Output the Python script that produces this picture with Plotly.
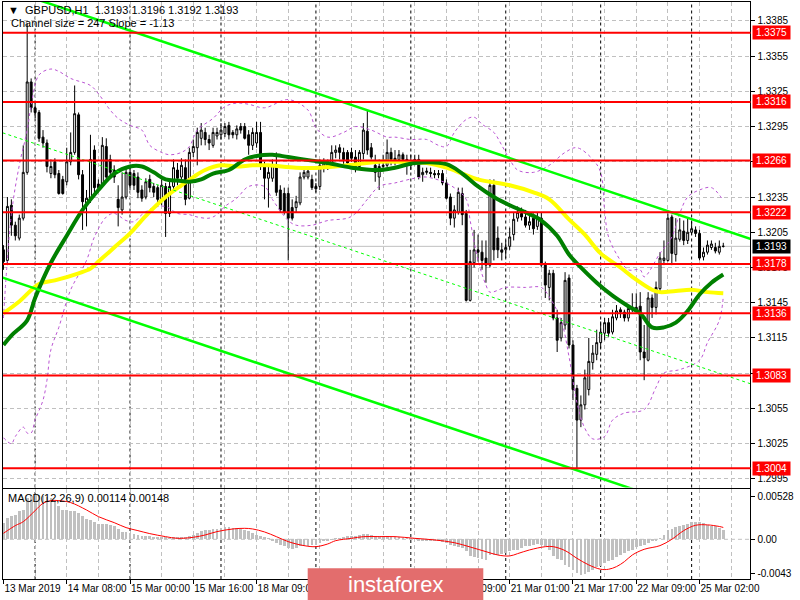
import plotly.graph_objects as go
from plotly.subplots import make_subplots

# GBPUSD H1, bar 0 = 13 Mar 2019 16:00
opens = [1.3190, 1.3181, 1.3228, 1.3211, 1.3200, 1.3217, 1.3256, 1.3333, 1.3311, 1.3307,
         1.3286, 1.3281, 1.3255, 1.3265, 1.3255, 1.3250, 1.3248, 1.3265, 1.3273, 1.3305,
         1.3254, 1.3230, 1.3233, 1.3275, 1.3246, 1.3245, 1.3278, 1.3267, 1.3258, 1.3233,
         1.3224, 1.3235, 1.3256, 1.3255, 1.3252, 1.3241, 1.3235, 1.3250, 1.3244, 1.3243,
         1.3233, 1.3244, 1.3221, 1.3244, 1.3258, 1.3252, 1.3260, 1.3234, 1.3273, 1.3277,
         1.3285, 1.3290, 1.3284, 1.3279, 1.3287, 1.3288, 1.3289, 1.3296, 1.3290, 1.3288,
         1.3295, 1.3295, 1.3288, 1.3279, 1.3281, 1.3290, 1.3261, 1.3251, 1.3251, 1.3261,
         1.3241, 1.3238, 1.3238, 1.3226, 1.3226, 1.3230, 1.3252, 1.3252, 1.3250, 1.3244,
         1.3244, 1.3261, 1.3264, 1.3264, 1.3273, 1.3277, 1.3273, 1.3273, 1.3273, 1.3269,
         1.3261, 1.3272, 1.3291, 1.3277, 1.3262, 1.3252, 1.3261, 1.3262, 1.3273, 1.3268,
         1.3267, 1.3271, 1.3267, 1.3262, 1.3267, 1.3267, 1.3254, 1.3256, 1.3256, 1.3255,
         1.3254, 1.3255, 1.3247, 1.3235, 1.3217, 1.3222, 1.3238, 1.3221, 1.3147, 1.3179,
         1.3190, 1.3188, 1.3183, 1.3177, 1.3245, 1.3200, 1.3190, 1.3190, 1.3193, 1.3203,
         1.3217, 1.3221, 1.3218, 1.3211, 1.3217, 1.3210, 1.3217, 1.3177, 1.3158, 1.3170,
         1.3132, 1.3115, 1.3126, 1.3166, 1.3109, 1.3072, 1.3045, 1.3058, 1.3071, 1.3094,
         1.3101, 1.3111, 1.3119, 1.3128, 1.3120, 1.3132, 1.3139, 1.3137, 1.3132, 1.3139,
         1.3141, 1.3142, 1.3103, 1.3096, 1.3149, 1.3141, 1.3157, 1.3181, 1.3181, 1.3218,
         1.3186, 1.3199, 1.3206, 1.3198, 1.3205, 1.3207, 1.3204, 1.3184, 1.3188, 1.3192,
         1.3192, 1.3188, 1.3193]
highs = [1.3194, 1.3235, 1.3233, 1.3214, 1.3220, 1.3279, 1.3383, 1.3336, 1.3315, 1.3309,
         1.3292, 1.3284, 1.3267, 1.3268, 1.3258, 1.3253, 1.3277, 1.3290, 1.3330, 1.3307,
         1.3258, 1.3241, 1.3288, 1.3279, 1.3250, 1.3286, 1.3285, 1.3271, 1.3262, 1.3245,
         1.3256, 1.3260, 1.3260, 1.3258, 1.3256, 1.3245, 1.3251, 1.3254, 1.3247, 1.3245,
         1.3250, 1.3247, 1.3250, 1.3267, 1.3264, 1.3268, 1.3267, 1.3277, 1.3284, 1.3294,
         1.3298, 1.3294, 1.3288, 1.3294, 1.3294, 1.3298, 1.3298, 1.3299, 1.3292, 1.3296,
         1.3298, 1.3298, 1.3292, 1.3294, 1.3299, 1.3299, 1.3265, 1.3262, 1.3267, 1.3273,
         1.3245, 1.3243, 1.3243, 1.3233, 1.3236, 1.3256, 1.3260, 1.3261, 1.3254, 1.3247,
         1.3267, 1.3268, 1.3267, 1.3279, 1.3279, 1.3280, 1.3277, 1.3275, 1.3277, 1.3275,
         1.3275, 1.3298, 1.3309, 1.3281, 1.3271, 1.3267, 1.3271, 1.3284, 1.3277, 1.3275,
         1.3275, 1.3273, 1.3271, 1.3271, 1.3271, 1.3271, 1.3260, 1.3260, 1.3260, 1.3258,
         1.3258, 1.3258, 1.3250, 1.3238, 1.3228, 1.3243, 1.3243, 1.3224, 1.3190, 1.3207,
         1.3203, 1.3198, 1.3198, 1.3250, 1.3250, 1.3210, 1.3196, 1.3198, 1.3209, 1.3222,
         1.3227, 1.3226, 1.3224, 1.3220, 1.3221, 1.3222, 1.3222, 1.3180, 1.3173, 1.3173,
         1.3139, 1.3132, 1.3171, 1.3169, 1.3113, 1.3075, 1.3066, 1.3088, 1.3115, 1.3109,
         1.3122, 1.3129, 1.3132, 1.3132, 1.3139, 1.3143, 1.3141, 1.3139, 1.3143, 1.3153,
         1.3153, 1.3154, 1.3126, 1.3154, 1.3152, 1.3163, 1.3188, 1.3198, 1.3221, 1.3220,
         1.3217, 1.3217, 1.3215, 1.3217, 1.3214, 1.3210, 1.3207, 1.3192, 1.3198, 1.3198,
         1.3196, 1.3198, 1.3196]
lows = [1.3173, 1.3177, 1.3202, 1.3198, 1.3198, 1.3215, 1.3254, 1.3307, 1.3302, 1.3282,
        1.3277, 1.3256, 1.3251, 1.3251, 1.3237, 1.3237, 1.3245, 1.3262, 1.3271, 1.3250,
        1.3207, 1.3210, 1.3230, 1.3237, 1.3239, 1.3243, 1.3250, 1.3251, 1.3247, 1.3210,
        1.3220, 1.3233, 1.3241, 1.3241, 1.3234, 1.3231, 1.3233, 1.3239, 1.3235, 1.3228,
        1.3228, 1.3201, 1.3218, 1.3241, 1.3245, 1.3250, 1.3228, 1.3233, 1.3269, 1.3262,
        1.3279, 1.3279, 1.3275, 1.3277, 1.3284, 1.3284, 1.3286, 1.3284, 1.3285, 1.3284,
        1.3289, 1.3284, 1.3271, 1.3275, 1.3277, 1.3258, 1.3233, 1.3226, 1.3248, 1.3236,
        1.3222, 1.3220, 1.3181, 1.3215, 1.3222, 1.3228, 1.3250, 1.3250, 1.3241, 1.3239,
        1.3241, 1.3256, 1.3258, 1.3261, 1.3268, 1.3267, 1.3262, 1.3261, 1.3265, 1.3256,
        1.3258, 1.3267, 1.3271, 1.3267, 1.3248, 1.3241, 1.3258, 1.3260, 1.3262, 1.3262,
        1.3264, 1.3264, 1.3254, 1.3258, 1.3262, 1.3250, 1.3248, 1.3254, 1.3252, 1.3251,
        1.3251, 1.3245, 1.3233, 1.3211, 1.3209, 1.3220, 1.3211, 1.3146, 1.3146, 1.3175,
        1.3180, 1.3173, 1.3162, 1.3175, 1.3181, 1.3183, 1.3181, 1.3183, 1.3190, 1.3198,
        1.3214, 1.3215, 1.3209, 1.3207, 1.3203, 1.3207, 1.3175, 1.3149, 1.3147, 1.3130,
        1.3103, 1.3112, 1.3122, 1.3106, 1.3062, 1.3004, 1.3039, 1.3054, 1.3066, 1.3088,
        1.3096, 1.3106, 1.3113, 1.3116, 1.3118, 1.3130, 1.3132, 1.3129, 1.3129, 1.3137,
        1.3137, 1.3096, 1.3079, 1.3095, 1.3132, 1.3135, 1.3154, 1.3177, 1.3180, 1.3177,
        1.3180, 1.3197, 1.3194, 1.3195, 1.3203, 1.3201, 1.3181, 1.3181, 1.3186, 1.3190,
        1.3187, 1.3186, 1.3192]
closes = [1.3180, 1.3227, 1.3211, 1.3202, 1.3217, 1.3256, 1.3333, 1.3311, 1.3307, 1.3285,
          1.3281, 1.3261, 1.3261, 1.3254, 1.3238, 1.3238, 1.3265, 1.3273, 1.3306, 1.3254,
          1.3231, 1.3234, 1.3267, 1.3243, 1.3243, 1.3279, 1.3252, 1.3256, 1.3252, 1.3226,
          1.3235, 1.3256, 1.3245, 1.3245, 1.3239, 1.3234, 1.3248, 1.3243, 1.3239, 1.3233,
          1.3245, 1.3221, 1.3244, 1.3260, 1.3251, 1.3262, 1.3233, 1.3273, 1.3278, 1.3290,
          1.3292, 1.3284, 1.3281, 1.3290, 1.3290, 1.3292, 1.3295, 1.3288, 1.3288, 1.3293,
          1.3292, 1.3285, 1.3279, 1.3290, 1.3290, 1.3261, 1.3251, 1.3256, 1.3262, 1.3239,
          1.3224, 1.3222, 1.3217, 1.3217, 1.3231, 1.3252, 1.3256, 1.3257, 1.3243, 1.3242,
          1.3262, 1.3264, 1.3261, 1.3273, 1.3275, 1.3273, 1.3267, 1.3264, 1.3268, 1.3261,
          1.3273, 1.3292, 1.3275, 1.3269, 1.3256, 1.3261, 1.3262, 1.3273, 1.3267, 1.3265,
          1.3271, 1.3267, 1.3262, 1.3265, 1.3266, 1.3252, 1.3256, 1.3257, 1.3255, 1.3254,
          1.3255, 1.3247, 1.3234, 1.3217, 1.3224, 1.3239, 1.3220, 1.3147, 1.3180, 1.3190,
          1.3188, 1.3181, 1.3177, 1.3245, 1.3190, 1.3190, 1.3188, 1.3192, 1.3201, 1.3216,
          1.3222, 1.3218, 1.3211, 1.3214, 1.3208, 1.3218, 1.3177, 1.3160, 1.3170, 1.3132,
          1.3113, 1.3128, 1.3164, 1.3109, 1.3071, 1.3045, 1.3058, 1.3081, 1.3095, 1.3102,
          1.3111, 1.3120, 1.3128, 1.3119, 1.3133, 1.3138, 1.3137, 1.3132, 1.3140, 1.3141,
          1.3139, 1.3103, 1.3098, 1.3149, 1.3141, 1.3158, 1.3183, 1.3183, 1.3217, 1.3187,
          1.3200, 1.3207, 1.3198, 1.3205, 1.3208, 1.3204, 1.3183, 1.3188, 1.3194, 1.3195,
          1.3189, 1.3193, 1.3193]
bars = list(range(len(closes)))

# moving averages (read at sample bars)
ma_green_bar = [0, 2, 6, 8, 12, 16, 20, 24, 28, 32, 35, 38, 41, 44, 47, 50, 53, 57, 61, 64,
                68, 72, 78, 82, 88, 95, 99, 104, 112, 116, 120, 124, 128, 132, 136, 140, 143,
                146, 150, 154, 158, 161, 164, 167, 170, 173, 176, 179, 182]
ma_green = [1.3109, 1.3117, 1.3130, 1.3149, 1.3179, 1.3202, 1.3224, 1.3241, 1.3255, 1.3261,
            1.3261, 1.3256, 1.3250, 1.3249, 1.3248, 1.3250, 1.3255, 1.3258, 1.3267, 1.3270,
            1.3271, 1.3269, 1.3266, 1.3264, 1.3260, 1.3258, 1.3260, 1.3264, 1.3263, 1.3255,
            1.3244, 1.3235, 1.3228, 1.3222, 1.3215, 1.3202, 1.3186, 1.3175, 1.3162, 1.3151,
            1.3142, 1.3136, 1.3124, 1.3124, 1.3128, 1.3138, 1.3152, 1.3162, 1.3169]
ma_yellow_bar = [0, 4, 9, 13, 19, 22, 24, 28, 32, 36, 41, 45, 48, 51, 55, 59, 63, 67, 74, 80,
                 87, 95, 100, 107, 112, 116, 120, 128, 134, 138, 143, 147, 151, 156, 159, 164,
                 166, 170, 174, 178, 182]
ma_yellow = [1.3136, 1.3146, 1.3161, 1.3164, 1.3170, 1.3174, 1.3180, 1.3192, 1.3204, 1.3219,
             1.3235, 1.3245, 1.3252, 1.3258, 1.3262, 1.3261, 1.3262, 1.3262, 1.3260, 1.3260,
             1.3262, 1.3265, 1.3265, 1.3264, 1.3260, 1.3255, 1.3250, 1.3245, 1.3239, 1.3233,
             1.3216, 1.3203, 1.3187, 1.3175, 1.3167, 1.3156, 1.3154, 1.3155, 1.3156, 1.3154,
             1.3153]
band_up_bar = [0, 2, 4, 6, 7, 9, 12, 14, 17, 22, 24, 27, 29, 32, 35, 37, 40, 42, 45, 47,
               49, 53, 56, 59, 62, 66, 72, 77, 79, 82, 86, 89, 93, 97, 99, 103, 107, 110, 112,
               114, 117, 119, 121, 124, 126, 128, 130, 134, 138, 142, 145, 149, 151, 152, 153,
               156, 158, 161, 162, 166, 169, 171, 173, 176, 179, 182]
band_up = [1.3132, 1.3220, 1.3262, 1.3292, 1.3313, 1.3339, 1.3344, 1.3342, 1.3336, 1.3330,
           1.3323, 1.3309, 1.3302, 1.3296, 1.3292, 1.3279, 1.3273, 1.3271, 1.3273, 1.3278,
           1.3292, 1.3302, 1.3312, 1.3315, 1.3314, 1.3311, 1.3318, 1.3309, 1.3294, 1.3286,
           1.3290, 1.3295, 1.3292, 1.3286, 1.3286, 1.3284, 1.3284, 1.3279, 1.3278, 1.3290,
           1.3301, 1.3303, 1.3297, 1.3290, 1.3279, 1.3267, 1.3258, 1.3256, 1.3262, 1.3273,
           1.3277, 1.3267, 1.3256, 1.3224, 1.3201, 1.3181, 1.3173, 1.3173, 1.3167, 1.3187,
           1.3201, 1.3221, 1.3235, 1.3241, 1.3243, 1.3232]
band_lo_bar = [0, 2, 3, 5, 6, 7, 8, 10, 11, 12, 14, 17, 21, 23, 26, 28, 31, 33, 35, 38,
               41, 44, 47, 49, 52, 54, 56, 59, 62, 66, 68, 72, 74, 78, 82, 87, 89, 92, 95, 99,
               104, 107, 113, 117, 118, 120, 122, 123, 127, 132, 136, 138, 141, 143, 145, 147,
               149, 152, 154, 157, 162, 165, 167, 171, 176, 178, 181, 182]
band_lo = [1.3030, 1.3025, 1.3031, 1.3039, 1.3034, 1.3034, 1.3045, 1.3062, 1.3079, 1.3105,
           1.3124, 1.3156, 1.3181, 1.3201, 1.3218, 1.3221, 1.3215, 1.3214, 1.3220, 1.3226,
           1.3227, 1.3221, 1.3220, 1.3218, 1.3217, 1.3220, 1.3227, 1.3234, 1.3244, 1.3244,
           1.3233, 1.3215, 1.3211, 1.3211, 1.3215, 1.3217, 1.3221, 1.3233, 1.3244, 1.3247,
           1.3251, 1.3252, 1.3245, 1.3233, 1.3215, 1.3181, 1.3160, 1.3154, 1.3158, 1.3158,
           1.3158, 1.3150, 1.3130, 1.3099, 1.3060, 1.3038, 1.3029, 1.3031, 1.3045, 1.3051,
           1.3054, 1.3073, 1.3085, 1.3088, 1.3096, 1.3111, 1.3130, 1.3150]

# MACD(12,26,9)
macd_main = [0.00200, 0.00262, 0.00283, 0.00304, 0.00345, 0.00366, 0.00512, 0.00541, 0.00566, 0.00553,
             0.00541, 0.00524, 0.00512, 0.00491, 0.00416, 0.00366, 0.00358, 0.00345, 0.00345, 0.00324,
             0.00283, 0.00250, 0.00241, 0.00208, 0.00191, 0.00191, 0.00191, 0.00179, 0.00158, 0.00125,
             0.00083, 0.00083, 0.00075, 0.00067, 0.00054, 0.00042, 0.00033, 0.00033, 0.00025, 0.00025,
             0.00025, 0.00017, 0.00012, 0.00017, 0.00021, 0.00025, 0.00025, 0.00033, 0.00054, 0.00075,
             0.00096, 0.00108, 0.00116, 0.00125, 0.00129, 0.00137, 0.00150, 0.00150, 0.00137, 0.00137,
             0.00129, 0.00116, 0.00096, 0.00075, 0.00054, 0.00042, 0.00025, 0.00002, -0.00029, -0.00050,
             -0.00071, -0.00092, -0.00112, -0.00125, -0.00112, -0.00092, -0.00083, -0.00083, -0.00071, -0.00071,
             -0.00050, -0.00029, -0.00017, -0.00008, 0.00002, 0.00012, 0.00025, 0.00033, 0.00042, 0.00042,
             0.00054, 0.00067, 0.00062, 0.00054, 0.00042, 0.00042, 0.00033, 0.00033, 0.00025, 0.00025,
             0.00025, 0.00012, 0.00012, 0.00002, 0.00002, -0.00017, -0.00017, -0.00017, -0.00021, -0.00029,
             -0.00029, -0.00042, -0.00050, -0.00071, -0.00083, -0.00104, -0.00112, -0.00154, -0.00208, -0.00225,
             -0.00237, -0.00250, -0.00258, -0.00196, -0.00196, -0.00196, -0.00183, -0.00175, -0.00154, -0.00141,
             -0.00133, -0.00112, -0.00092, -0.00083, -0.00071, -0.00058, -0.00071, -0.00092, -0.00133, -0.00208,
             -0.00250, -0.00266, -0.00320, -0.00349, -0.00391, -0.00424, -0.00445, -0.00437, -0.00416, -0.00383,
             -0.00349, -0.00333, -0.00300, -0.00279, -0.00258, -0.00225, -0.00196, -0.00175, -0.00154, -0.00133,
             -0.00100, -0.00083, -0.00071, -0.00050, -0.00029, -0.00017, 0.00012, 0.00054, 0.00108, 0.00125,
             0.00146, 0.00158, 0.00179, 0.00191, 0.00208, 0.00212, 0.00208, 0.00200, 0.00179, 0.00166,
             0.00158, 0.00137, 0.00114]
macd_signal_bar = [0, 3, 5, 8, 10, 12, 14, 17, 21, 24, 28, 31, 34, 37, 41, 44, 48, 51, 54, 58,
                   61, 63, 66, 69, 72, 76, 79, 82, 84, 88, 91, 95, 99, 104, 109, 114, 118, 122,
                   125, 128, 130, 133, 137, 139, 142, 145, 148, 151, 153, 155, 157, 159, 162,
                   166, 169, 172, 175, 178, 181, 182]
macd_signal = [0.00075, 0.00171, 0.00220, 0.00358, 0.00449, 0.00483, 0.00483, 0.00458, 0.00366, 0.00283,
               0.00208, 0.00146, 0.00108, 0.00071, 0.00033, 0.00012, 0.00025, 0.00054, 0.00096, 0.00129,
               0.00137, 0.00129, 0.00092, 0.00033, -0.00029, -0.00079, -0.00092, -0.00058, -0.00017, 0.00012,
               0.00033, 0.00033, 0.00033, 0.00012, -0.00008, -0.00042, -0.00096, -0.00154, -0.00196, -0.00208,
               -0.00179, -0.00133, -0.00092, -0.00092, -0.00141, -0.00237, -0.00320, -0.00374, -0.00374, -0.00341,
               -0.00279, -0.00196, -0.00125, -0.00079, 0.00000, 0.00108, 0.00175, 0.00180, 0.00160, 0.00148]

# chart objects
levels = [1.3375, 1.3316, 1.3266, 1.3222, 1.3178, 1.3136, 1.3083, 1.3004]
last_price = 1.3193
channel_bar = [-0.2, 189]
channel_upper = [1.34131, 1.31992]
channel_mid = [1.32897, 1.30758]
channel_lower = [1.31664, 1.29525]
day_start_bar = [8, 32, 55, 79, 103, 127, 151, 174]
date_bar = [0, 16, 32, 48, 64, 80, 96, 112, 128, 144, 160, 176]
date_text = ['13 Mar 2019', '14 Mar 08:00', '15 Mar 00:00', '15 Mar 16:00', '18 Mar 09:00',
             '19 Mar 01:00', '19 Mar 17:00', '20 Mar 09:00', '21 Mar 01:00', '21 Mar 17:00',
             '22 Mar 09:00', '25 Mar 02:00']
price_ticks = [1.2995, 1.3025, 1.3055, 1.3085, 1.3115, 1.3145, 1.3175, 1.3205, 1.3235,
               1.3265, 1.3295, 1.3325, 1.3355, 1.3385]
macd_ticks = [0.00528, 0.0, -0.0043]
macd_tick_text = ['0.00528', '0.00', '-0.0043']

FONT = 'Liberation Sans'
GRID = '#C0C0C0'

fig = make_subplots(rows=2, cols=1, shared_xaxes=True)

fig.add_trace(go.Candlestick(
    x=bars, open=opens, high=highs, low=lows, close=closes,
    increasing=dict(line=dict(color='black', width=1), fillcolor='white'),
    decreasing=dict(line=dict(color='black', width=1), fillcolor='black'),
    whiskerwidth=0, hoverinfo='skip'), row=1, col=1)

# bands
for bx, by in [(band_up_bar, band_up), (band_lo_bar, band_lo)]:
    fig.add_trace(go.Scatter(x=bx, y=by, mode='lines', line_shape='spline',
                             line=dict(color='#BA55D3', width=1, dash='3px,3px'),
                             hoverinfo='skip'), row=1, col=1)

# moving averages
fig.add_trace(go.Scatter(x=ma_yellow_bar, y=ma_yellow, mode='lines', line_shape='spline',
                         line=dict(color='#FFFF00', width=4), hoverinfo='skip'), row=1, col=1)
fig.add_trace(go.Scatter(x=ma_green_bar, y=ma_green, mode='lines', line_shape='spline',
                         line=dict(color='#008000', width=4), hoverinfo='skip'), row=1, col=1)

# equidistant channel
fig.add_trace(go.Scatter(x=channel_bar, y=channel_upper, mode='lines',
                         line=dict(color='#00FF00', width=2.5), hoverinfo='skip'), row=1, col=1)
fig.add_trace(go.Scatter(x=channel_bar, y=channel_lower, mode='lines',
                         line=dict(color='#00FF00', width=2.5), hoverinfo='skip'), row=1, col=1)
fig.add_trace(go.Scatter(x=channel_bar, y=channel_mid, mode='lines',
                         line=dict(color='#00FF00', width=1, dash='3px,3px'), hoverinfo='skip'),
              row=1, col=1)

# MACD
fig.add_trace(go.Bar(x=bars, y=macd_main, marker=dict(color='#C0C0C0', line=dict(width=0)),
                     width=0.7, hoverinfo='skip'), row=2, col=1)
fig.add_trace(go.Scatter(x=macd_signal_bar, y=macd_signal, mode='lines', line_shape='spline',
                         line=dict(color='#FF0000', width=1), hoverinfo='skip'), row=2, col=1)

shapes = []
# current price line
shapes.append(dict(type='line', xref='x domain', x0=0, x1=1, yref='y', y0=last_price, y1=last_price,
                   line=dict(color='#C0C0C0', width=1), layer='below'))
# period separators
for b in day_start_bar:
    for yr in ['y domain', 'y2 domain']:
        shapes.append(dict(type='line', xref='x', x0=b, x1=b, yref=yr, y0=0, y1=1,
                           line=dict(color='black', width=1, dash='3px,3px'), layer='below'))
# MACD zero level
shapes.append(dict(type='line', xref='x domain', x0=0, x1=1, yref='y2', y0=0, y1=0,
                   line=dict(color='#C0C0C0', width=1, dash='4px,3px'), layer='below'))
# horizontal levels
for lv in levels:
    shapes.append(dict(type='line', xref='x domain', x0=0, x1=1, yref='y', y0=lv, y1=lv,
                       line=dict(color='#FF0000', width=2), layer='above'))
# watermark box
shapes.append(dict(type='rect', xref='paper', yref='paper', x0=0.389, x1=0.611, y0=0, y1=0.053,
                   fillcolor='#E36D6D', line=dict(width=0), layer='above'))

annotations = []
for lv in levels:
    annotations.append(dict(x=0.951, xref='paper', y=lv, yref='y', text=f'{lv:.4f}',
                            showarrow=False, xanchor='left', bgcolor='#FF0000', borderpad=1,
                            width=35, align='center',
                            font=dict(family=FONT, size=10, color='white')))
annotations.append(dict(x=0.951, xref='paper', y=last_price, yref='y', text=f'{last_price:.4f}',
                        showarrow=False, xanchor='left', bgcolor='black', borderpad=1,
                        width=35, align='center',
                        font=dict(family=FONT, size=10, color='white')))
annotations.append(dict(x=0.008, xref='paper', y=1 - 10 / 600, yref='paper', xanchor='left',
                        yanchor='middle',
                        text='\u25BC  GBPUSD,H1  1.3193 1.3196 1.3192 1.3193', showarrow=False,
                        font=dict(family=FONT, size=11, color='black')))
annotations.append(dict(x=0.012, xref='paper', y=1 - 23 / 600, yref='paper', xanchor='left',
                        yanchor='middle',
                        text='Channel size = 247 Slope = -1.13', showarrow=False,
                        font=dict(family=FONT, size=11, color='black')))
annotations.append(dict(x=0.008, xref='paper', y=1 - 498 / 600, yref='paper', xanchor='left',
                        yanchor='middle',
                        text='MACD(12,26,9) 0.00114 0.00148', showarrow=False,
                        font=dict(family=FONT, size=11, color='black')))
annotations.append(dict(x=0.5, xref='paper', y=1 - 584 / 600, yref='paper', yanchor='middle',
                        text='instaforex', showarrow=False,
                        font=dict(family=FONT, size=22, color='white')))

xcommon = dict(domain=[0.00375, 0.94875], range=[-0.125, 188.875], showline=True, mirror=True,
               linecolor='black', linewidth=1, zeroline=False, tickmode='array',
               tickvals=date_bar, showgrid=True, gridcolor=GRID, griddash='4px,3px',
               minor=dict(tickmode='linear', tick0=0, dtick=8, showgrid=True, gridcolor=GRID,
                          griddash='4px,3px'),
               rangeslider=dict(visible=False))
fig.update_xaxes(**xcommon)
fig.update_xaxes(showticklabels=False, ticks='', row=1, col=1)
fig.update_xaxes(ticktext=date_text, ticks='outside', ticklen=4, tickcolor='black',
                 tickangle=0, ticklabelposition='outside right',
                 tickfont=dict(family=FONT, size=10, color='black'), row=2, col=1)

ycommon = dict(side='right', showline=True, mirror=True, linecolor='black', linewidth=1,
               zeroline=False, ticks='outside', ticklen=4, tickcolor='black',
               tickfont=dict(family=FONT, size=10, color='black'))
fig.update_yaxes(domain=[0.1875, 0.99667], range=[1.29876, 1.34011], tickmode='array',
                 tickvals=price_ticks, ticktext=[f'{p:.4f}' for p in price_ticks],
                 showgrid=True, gridcolor=GRID, griddash='4px,3px', row=1, col=1, **ycommon)
fig.update_yaxes(domain=[0.035, 0.1845], range=[-0.004955, 0.00624], tickmode='array',
                 tickvals=macd_ticks, ticktext=macd_tick_text, showgrid=False,
                 row=2, col=1, **ycommon)

fig.update_layout(width=800, height=600, margin=dict(l=0, r=0, t=0, b=0),
                  paper_bgcolor='white', plot_bgcolor='white', showlegend=False,
                  bargap=0, shapes=shapes, annotations=annotations, hovermode=False)

# the page body has a default 8px margin; drop it so the chart fills the window
fig.write_html("out.html", config={'displayModeBar': False},
               post_script="document.body.style.margin='0';")
